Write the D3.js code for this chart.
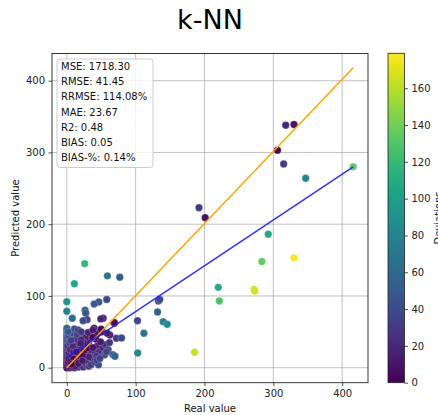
<!DOCTYPE html>
<html>
<head>
<meta charset="utf-8">
<script src="https://cdn.jsdelivr.net/npm/d3@7/dist/d3.min.js"></script>
<style>
  html, body { margin: 0; padding: 0; background: #fff; }
  svg { display: block; font-family: "DejaVu Sans", sans-serif; }
</style>
</head>
<body>
<svg id="chart" width="438" height="415"></svg>
<script>
// ---- data ----
const realValues = [
  0,0,0,0,0,0,0,0,0,0,0,0,0,0,0,0,
  2,3,1,4,3,5,2,4,
  5,8,11,14,17,20,24,28,32,
  6,8,10,12,13,15,16,18,19,22,24,25,26,28,30,32,34,35,36,40,41,44,46,47,33,27,13,9,7,11,15,6,18,29,42,52,55,36,10,20,14,24,45,31,12,7,17,25,38,56,60,62,32,
  39.7,21,20,30.5,38,43,43.6,22.8,22.8,49,62.5,58.6,50.4,48,16.4,21,2,38,50,
  57.7,67,70,72,79.5,52.8,69,49.4,68.8,
  0,0,8,46.5,39.7,58,26.6,27.6,29.5,23.7,
  102.7,133,135,131.8,140,145.8,112,103,
  26,11,59,77,185.6,
  192,201,318,330,306,315,347,416,292.6,283.4,330,220,221.5,272,273
];
const predictedValues = [
  0,3,6,9,12,15,19,23,27,31,35,39,43,47,52,55,
  8,20,30,42,12,25,45,35,
  0,1,0,2,1,3,1,4,2,
  10,16,22,6,28,12,34,20,44,26,8,30,14,20,10,36,18,4,24,8,20,30,4,22,45,42,40,30,48,54,47,38,10,33,40,28,18,14,12,16,22,36,48,49,2,5,6,24,42,32,25,35,15,
  55,38.6,34,28,28,16,10.7,16,9.7,36,45.6,48,50,13,52.5,50,50,52.5,53.5,
  22,18,16,41,41.4,69,62,68,63,
  92,78.6,69,91.6,88.8,95,80,76,67,65.5,
  65.5,93,95,77.6,64,60.5,48,20.5,
  145,117,128,126,21.5,
  223,209,338,339,303,284,264,280,186,148,153,112,93,109,107
];
// colour = deviation |real - predicted|
const deviations = realValues.map((r, i) => Math.abs(r - predictedValues[i]));

const identityLine = [[0, 0], [416, 418]];
const fitLine = [[0, 14.5], [416, 280]];

const xTicks = [0, 100, 200, 300, 400];
const yTicks = [0, 100, 200, 300, 400];
const cbTicks = [0, 20, 40, 60, 80, 100, 120, 140, 160];

const statsLines = [
  "MSE: 1718.30",
  "RMSE: 41.45",
  "RRMSE: 114.08%",
  "MAE: 23.67",
  "R2: 0.48",
  "BIAS: 0.05",
  "BIAS-%: 0.14%"
];

// ---- drawing ----
const svg = d3.select("#chart");
const L = 52, R = 368, T = 53.5, B = 382.7;

const x = d3.scaleLinear().domain([-21.5, 437.5]).range([L, R]);
const y = d3.scaleLinear().domain([-20.9, 437.9]).range([B, T]);
const color = d3.scaleSequential(d3.interpolateViridis).domain([0, 179]);

// title
svg.append("text").attr("x", 210).attr("y", 28.5).attr("text-anchor", "middle")
  .attr("font-size", 27).attr("fill", "#000").text("k-NN");

// grid
const grid = svg.append("g").attr("stroke", "#b0b0b0").attr("stroke-width", 0.8);
xTicks.forEach(t => grid.append("line").attr("x1", x(t)).attr("x2", x(t)).attr("y1", T).attr("y2", B));
yTicks.forEach(t => grid.append("line").attr("y1", y(t)).attr("y2", y(t)).attr("x1", L).attr("x2", R));

// axes
const xAxis = d3.axisBottom(x).tickValues(xTicks).tickSize(3.5).tickPadding(3.5).tickFormat(d3.format("d"));
const yAxis = d3.axisLeft(y).tickValues(yTicks).tickSize(3.5).tickPadding(3.5).tickFormat(d3.format("d"));
const gx = svg.append("g").attr("transform", `translate(0,${B})`).call(xAxis);
const gy = svg.append("g").attr("transform", `translate(${L},0)`).call(yAxis);
[gx, gy].forEach(g => {
  g.select(".domain").remove();
  g.selectAll("text").attr("font-size", 10).attr("fill", "#222").attr("font-family", "DejaVu Sans, sans-serif");
  g.selectAll("line").attr("stroke", "#222").attr("stroke-width", 0.8);
});

// points
svg.append("g").selectAll("circle").data(realValues).join("circle")
  .attr("cx", (d) => x(d))
  .attr("cy", (d, i) => y(predictedValues[i]))
  .attr("r", 3.7)
  .attr("fill", (d, i) => color(deviations[i]))
  .attr("stroke", "#fff").attr("stroke-width", 0.4).attr("stroke-opacity", 0.5);

// lines
const line = d3.line().x(d => x(d[0])).y(d => y(d[1]));
svg.append("path").datum(identityLine).attr("d", line).attr("fill", "none")
  .attr("stroke", "orange").attr("stroke-width", 1.5);
svg.append("path").datum(fitLine).attr("d", line).attr("fill", "none")
  .attr("stroke", "#1a1aff").attr("stroke-width", 1.5).attr("stroke-opacity", 0.9);

// frame
svg.append("rect").attr("x", L).attr("y", T).attr("width", R - L).attr("height", B - T)
  .attr("fill", "none").attr("stroke", "#222").attr("stroke-width", 0.9);

// stats box
svg.append("rect").attr("x", 57).attr("y", 59).attr("width", 96).attr("height", 108.5)
  .attr("rx", 3).attr("fill", "#fff").attr("fill-opacity", 0.8)
  .attr("stroke", "#cccccc").attr("stroke-width", 1);
const st = svg.append("text").attr("font-size", 10).attr("fill", "#111");
statsLines.forEach((s, i) => st.append("tspan").attr("x", 61).attr("y", 70 + i * 15.2).text(s));

// axis labels
svg.append("text").attr("x", 210).attr("y", 411.5).attr("text-anchor", "middle")
  .attr("font-size", 10).attr("fill", "#111").text("Real value");
svg.append("text").attr("transform", `translate(18.5,${(T + B) / 2}) rotate(-90)`)
  .attr("text-anchor", "middle").attr("font-size", 10).attr("fill", "#111").text("Predicted value");

// colorbar
const cbX = 388, cbW = 16.5, cbT = 53.3, cbB = 382.7;
const cb = d3.scaleLinear().domain([0, 179]).range([cbB, cbT]);
const defs = svg.append("defs");
const grad = defs.append("linearGradient").attr("id", "vir").attr("x1", "0").attr("y1", "1").attr("x2", "0").attr("y2", "0");
d3.range(0, 1.0001, 0.05).forEach(t => grad.append("stop").attr("offset", t).attr("stop-color", d3.interpolateViridis(t)));
svg.append("rect").attr("x", cbX).attr("y", cbT).attr("width", cbW).attr("height", cbB - cbT)
  .attr("fill", "url(#vir)").attr("stroke", "#222").attr("stroke-width", 0.8);
const gc = svg.append("g").attr("transform", `translate(${cbX + cbW},0)`)
  .call(d3.axisRight(cb).tickValues(cbTicks).tickSize(3.5).tickPadding(3.5));
gc.select(".domain").remove();
gc.selectAll("text").attr("font-size", 10).attr("fill", "#222").attr("font-family", "DejaVu Sans, sans-serif");
gc.selectAll("line").attr("stroke", "#222").attr("stroke-width", 0.8);
// cut off at the right edge, as in the reference
svg.append("text").attr("transform", `translate(442,${(cbT + cbB) / 2}) rotate(-90)`)
  .attr("text-anchor", "middle").attr("font-size", 10).attr("fill", "#111").text("Deviations");
</script>
</body>
</html>
